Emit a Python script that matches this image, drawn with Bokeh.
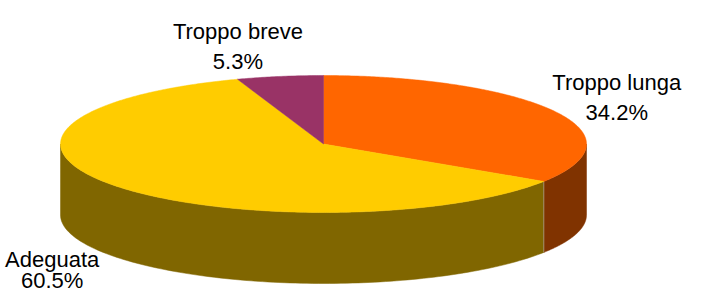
import numpy as np
from bokeh.plotting import figure
from bokeh.models import Range1d, ColumnDataSource
from bokeh.embed import file_html
from bokeh.resources import INLINE
from bokeh.core.properties import value

# ---- data ----
categories = ["Troppo lunga", "Adeguata", "Troppo breve"]
percent = [34.2, 60.5, 5.3]

# ---- style / layout ----
top_colors = ["#FF6600", "#FFCC00", "#993366"]
side_colors = ["#803300", "#806600", "#4D1A33"]
label_dx = [62, -64, -42]     # label offset from slice mid-angle point (px)
label_dy = [-29, 73, -45]
line_gap = [30, 21, 30]

CX, CY, RX, RY, DEPTH = 323.0, 143.5, 263.0, 68.5, 71.0


def ell(theta_deg, dz=0.0):
    t = np.radians(theta_deg)
    return CX + RX * np.sin(t), CY - RY * np.cos(t) + dz


total = float(sum(percent))
starts, ends = [], []
acc = 0.0
for v in percent:
    starts.append(acc / total * 360.0)
    acc += v
    ends.append(acc / total * 360.0)

p = figure(width=685, height=292, x_range=Range1d(0, 685), y_range=Range1d(292, 0),
           output_backend="svg", toolbar_location=None, min_border=0)
p.axis.visible = False
p.grid.visible = False
p.outline_line_color = None
p.background_fill_color = "white"
p.border_fill_color = "white"

# side faces (front half: 90..270 deg clockwise from top)
sx, sy, sc = [], [], []
for a, b, c in zip(starts, ends, side_colors):
    lo, hi = max(a, 90.0), min(b, 270.0)
    if hi <= lo:
        continue
    th = np.linspace(lo, hi, 120)
    x1, y1 = ell(th)
    x2, y2 = ell(th[::-1], DEPTH)
    sx.append(list(np.concatenate([x1, x2])))
    sy.append(list(np.concatenate([y1, y2])))
    sc.append(c)
p.patches(sx, sy, fill_color=sc, line_color=sc, line_width=0.5)

# seams on the side between slices
for a in starts[1:]:
    if 90.0 < a < 270.0:
        x0, y0 = ell(a)
        x1, y1 = ell(a, DEPTH)
        p.line([x0, x1], [y0, y1], line_color="#A08C6E", line_width=1)

# top faces
tx, ty = [], []
for a, b in zip(starts, ends):
    th = np.linspace(a, b, max(int((b - a) * 2), 8))
    x, y = ell(th)
    tx.append([CX] + list(x))
    ty.append([CY] + list(y))
p.patches(tx, ty, fill_color=top_colors, line_color=top_colors, line_width=0.5)

# labels
mids = [(a + b) / 2 for a, b in zip(starts, ends)]
lx, ly, ly2 = [], [], []
for m, dx, dy, g in zip(mids, label_dx, label_dy, line_gap):
    x, y = ell(m)
    lx.append(x + dx)
    ly.append(y + dy)
    ly2.append(y + dy + g)
src = ColumnDataSource(dict(x=lx, y=ly, y2=ly2,
                            name=categories, pct=[f"{v}%" for v in percent]))
common = dict(text_align="center", text_baseline="alphabetic",
              text_font=value("Liberation Sans"), text_font_size="22px",
              text_color="#000000")
p.text(x="x", y="y", text="name", source=src, **common)
p.text(x="x", y="y2", text="pct", source=src, **common)

open("out.html", "w").write(file_html(p, INLINE))
